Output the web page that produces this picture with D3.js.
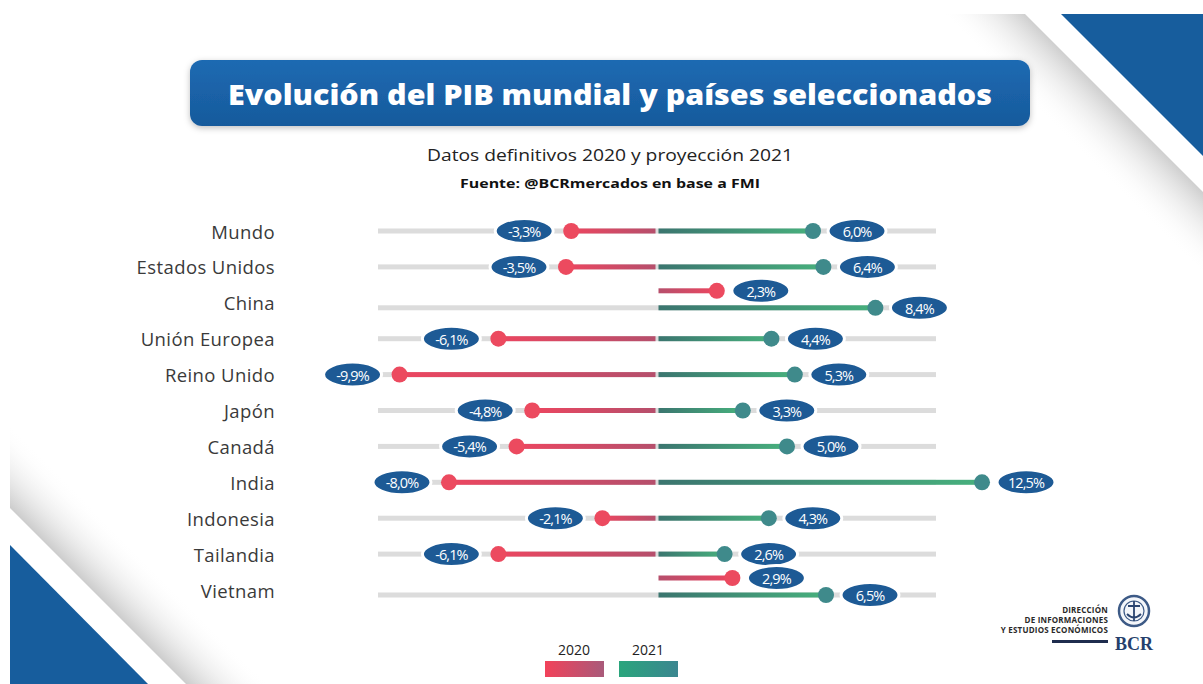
<!DOCTYPE html>
<html>
<head>
<meta charset="utf-8">
<script src="https://cdn.jsdelivr.net/npm/d3@7"></script>
<style>
  html, body { margin: 0; padding: 0; background: #ffffff; }
  svg { display: block; }
</style>
</head>
<body>
<div id="chart"></div>
<script>
// ---------------- DATA ----------------
const categories = ["Mundo", "Estados Unidos", "China", "Unión Europea", "Reino Unido", "Japón",
  "Canadá", "India", "Indonesia", "Tailandia", "Vietnam"];
const values2020 = [-3.3, -3.5, 2.3, -6.1, -9.9, -4.8, -5.4, -8.0, -2.1, -6.1, 2.9];
const values2021 = [6.0, 6.4, 8.4, 4.4, 5.3, 3.3, 5.0, 12.5, 4.3, 2.6, 6.5];
const seriesNames = ["2020", "2021"];
const titleText = "Evolución del PIB mundial y países seleccionados";
const subtitleText = "Datos definitivos 2020 y proyección 2021";
const sourceText = "Fuente: @BCRmercados en base a FMI";
const logoLines = ["DIRECCIÓN", "DE INFORMACIONES", "Y ESTUDIOS ECONÓMICOS"];

// ---------------- SETUP ----------------
const W = 1203, H = 684;
const svg = d3.select("#chart").append("svg").attr("width", W).attr("height", H)
  .style("font-family", "'Open Sans', 'Noto Sans', sans-serif");
const defs = svg.append("defs");

const locale = d3.formatLocale({decimal: ",", thousands: ".", grouping: [3], currency: ["", ""], minus: "-"});
const fmt = v => locale.format(".1f")(v) + "%";

const x = d3.scaleLinear().domain([-10.73, 10.73]).range([378, 936]);
const y = d3.scalePoint().domain(categories).range([231, 590]);
const x0 = x(0);

// colours
const C = {
  redBright: "#ec4660", redDark: "#b54f6c", redDot: "#ec4a5f",
  greenDark: "#3b756f", greenBright: "#47b07d", tealDot: "#3f8a8b",
  track: "#dcdcdc", label: "#1d5a95", blue: "#1a62a6", corner: "#175d9d"
};

// ---------------- BACKGROUND DECOR ----------------
const gTR = defs.append("linearGradient").attr("id", "shTR").attr("gradientUnits", "userSpaceOnUse")
  .attr("x1", 1114).attr("y1", 103).attr("x2", 1072).attr("y2", 145);
gTR.append("stop").attr("offset", 0).attr("stop-color", "#cfcfcf");
gTR.append("stop").attr("offset", 1).attr("stop-color", "#ffffff").attr("stop-opacity", 0);
svg.append("polygon").attr("points", "945,14 1025,14 1203,192 1203,272").attr("fill", "url(#shTR)");
svg.append("polygon").attr("points", "1061,14 1203,14 1203,156").attr("fill", C.corner);

const gBL = defs.append("linearGradient").attr("id", "shBL").attr("gradientUnits", "userSpaceOnUse")
  .attr("x1", 98).attr("y1", 596).attr("x2", 140).attr("y2", 554);
gBL.append("stop").attr("offset", 0).attr("stop-color", "#cccccc");
gBL.append("stop").attr("offset", 1).attr("stop-color", "#ffffff").attr("stop-opacity", 0);
svg.append("polygon").attr("points", "10,508 186,684 270,684 10,424").attr("fill", "url(#shBL)");
svg.append("polygon").attr("points", "10,545 10,684 148,684").attr("fill", C.corner);

// ---------------- TITLE ----------------
const shadow = defs.append("filter").attr("id", "ds").attr("x", "-10%").attr("y", "-30%")
  .attr("width", "120%").attr("height", "160%");
shadow.append("feDropShadow").attr("dx", 0).attr("dy", 2).attr("stdDeviation", 3)
  .attr("flood-color", "#000").attr("flood-opacity", 0.25);
const gT = defs.append("linearGradient").attr("id", "titleG").attr("x1", 0).attr("y1", 0).attr("x2", 0).attr("y2", 1);
gT.append("stop").attr("offset", 0).attr("stop-color", "#1d6ab2");
gT.append("stop").attr("offset", 1).attr("stop-color", "#175a9c");
svg.append("rect").attr("x", 190).attr("y", 60).attr("width", 840).attr("height", 66).attr("rx", 12)
  .attr("fill", "url(#titleG)").attr("filter", "url(#ds)");
svg.append("text").attr("x", 610).attr("y", 94).attr("text-anchor", "middle")
  .attr("dominant-baseline", "central").attr("fill", "#fff")
  .style("font-family", "'Open Sans', sans-serif").style("font-weight", 800).style("font-size", "28px")
  .attr("textLength", 764).attr("lengthAdjust", "spacingAndGlyphs").text(titleText);
svg.append("text").attr("x", 610).attr("y", 155).attr("text-anchor", "middle")
  .attr("dominant-baseline", "central").attr("fill", "#222")
  .style("font-size", "16px").attr("textLength", 366).attr("lengthAdjust", "spacingAndGlyphs").text(subtitleText);
svg.append("text").attr("x", 610).attr("y", 183).attr("text-anchor", "middle")
  .attr("dominant-baseline", "central").attr("fill", "#111")
  .style("font-size", "13px").style("font-weight", 700).attr("textLength", 300)
  .attr("lengthAdjust", "spacingAndGlyphs").text(sourceText);

// ---------------- ROWS ----------------
const rows = categories.map((c, i) => {
  const a = values2020[i], b = values2021[i];
  const split = a > 0;
  return {
    cat: c, v2020: a, v2021: b, split,
    y2020: split ? y(c) - 12 : y(c),
    y2021: split ? y(c) + 5 : y(c)
  };
});

// category labels
svg.append("g").selectAll("text").data(rows).join("text")
  .attr("x", 275).attr("y", d => y(d.cat)).attr("text-anchor", "end")
  .attr("dominant-baseline", "central").attr("fill", "#3a3a3a")
  .style("font-size", "18.5px").style("letter-spacing", "0.4px").text(d => d.cat);

// tracks
svg.append("g").selectAll("rect").data(rows).join("rect")
  .attr("x", x.range()[0]).attr("width", x.range()[1] - x.range()[0])
  .attr("y", d => d.y2021 - 2.5).attr("height", 5).attr("fill", C.track);

// bars with gradients
const bars = [];
rows.forEach((d, i) => {
  bars.push({id: "b20_" + i, v: d.v2020, yy: d.y2020, s: "2020"});
  bars.push({id: "b21_" + i, v: d.v2021, yy: d.y2021, s: "2021"});
});
bars.forEach(b => {
  const g = defs.append("linearGradient").attr("id", b.id).attr("gradientUnits", "userSpaceOnUse")
    .attr("x1", x0).attr("y1", 0).attr("x2", x(b.v)).attr("y2", 0);
  g.append("stop").attr("offset", 0).attr("stop-color", b.s === "2020" ? C.redDark : C.greenDark);
  g.append("stop").attr("offset", 1).attr("stop-color", b.s === "2020" ? C.redBright : C.greenBright);
});
svg.append("g").selectAll("rect").data(bars).join("rect")
  .attr("x", b => b.v < 0 ? x(b.v) : x0 + 1.5)
  .attr("width", b => b.v < 0 ? x0 - 1.5 - x(b.v) : x(b.v) - x0 - 1.5)
  .attr("y", b => b.yy - 2.5).attr("height", 5)
  .attr("fill", b => "url(#" + b.id + ")");

// dots
svg.append("g").selectAll("circle").data(bars).join("circle")
  .attr("cx", b => x(b.v)).attr("cy", b => b.yy).attr("r", 8)
  .attr("fill", b => b.s === "2020" ? C.redDot : C.tealDot);

// value labels
const lab = svg.append("g").selectAll("g").data(bars).join("g")
  .attr("transform", b => `translate(${x(b.v) + (b.v < 0 ? -47 : 44)},${b.yy})`);
lab.append("ellipse").attr("rx", 29).attr("ry", 12.5).attr("fill", C.label)
  .attr("stroke", "#fff").attr("stroke-width", 3);
lab.append("text").attr("text-anchor", "middle").attr("dominant-baseline", "central")
  .attr("y", 0.5).attr("fill", "#fff").style("font-size", "14.5px")
  .style("letter-spacing", "-0.9px").text(b => fmt(b.v));

// ---------------- LEGEND ----------------
const legX = [574, 648];
seriesNames.forEach((s, i) => {
  const g = defs.append("linearGradient").attr("id", "leg" + s);
  g.append("stop").attr("offset", 0).attr("stop-color", i === 0 ? "#f2425a" : "#2aa57c");
  g.append("stop").attr("offset", 1).attr("stop-color", i === 0 ? "#a95a7a" : "#3b8690");
});
const leg = svg.append("g").selectAll("g").data(seriesNames).join("g")
  .attr("transform", (s, i) => `translate(${legX[i]},0)`);
leg.append("text").attr("y", 655).attr("text-anchor", "middle").attr("fill", "#222")
  .style("font-size", "14px").text(s => s);
leg.append("rect").attr("x", -29).attr("y", 661).attr("width", 59).attr("height", 16)
  .attr("fill", s => "url(#leg" + s + ")");

// ---------------- LOGO ----------------
const logo = svg.append("g");
logo.selectAll("text").data(logoLines).join("text")
  .attr("x", 1108).attr("y", (d, i) => 613 + i * 10).attr("text-anchor", "end")
  .attr("fill", "#2a2a2a").style("font-size", "8px").style("font-weight", 700)
  .style("letter-spacing", "0.2px").text(d => d);
logo.append("rect").attr("x", 1052).attr("y", 640).attr("width", 56).attr("height", 3).attr("fill", "#1f2d4e");
logo.append("circle").attr("cx", 1134).attr("cy", 611).attr("r", 15).attr("fill", "#f4f6fa")
  .attr("stroke", "#3d5a86").attr("stroke-width", 2.5);
logo.append("circle").attr("cx", 1134).attr("cy", 611).attr("r", 10).attr("fill", "none")
  .attr("stroke", "#3d5a86").attr("stroke-width", 1.2);
logo.append("path").attr("d", "M1134,601 L1134,621 M1128,606 L1140,606 M1127,614 Q1134,621 1141,614")
  .attr("stroke", "#2b4470").attr("stroke-width", 1.8).attr("fill", "none");
logo.append("text").attr("x", 1134).attr("y", 650).attr("text-anchor", "middle")
  .attr("fill", "#253f6c").style("font-family", "'Liberation Serif', 'DejaVu Serif', serif")
  .style("font-size", "18px").style("font-weight", 700).text("BCR");
</script>
</body>
</html>
